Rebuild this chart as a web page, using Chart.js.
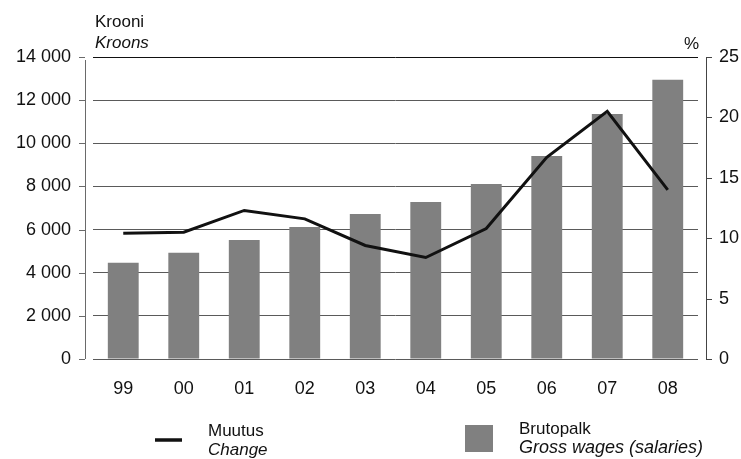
<!DOCTYPE html>
<html>
<head>
<meta charset="utf-8">
<script src="https://cdn.jsdelivr.net/npm/chart.js@4/dist/chart.umd.min.js"></script>
<style>
  html, body { margin: 0; padding: 0; background: #fff; }
  #wrap { position: relative; width: 741px; height: 459px; }
</style>
</head>
<body>
<div id="wrap"><canvas id="wagesChart" width="741" height="459"></canvas></div>
<script>
// Andmed / data
const years = ['99', '00', '01', '02', '03', '04', '05', '06', '07', '08'];
const grossWages = [4460, 4930, 5520, 6120, 6720, 7280, 8110, 9410, 11360, 12950];
const changePct = [10.4, 10.5, 12.3, 11.6, 9.4, 8.4, 10.8, 16.7, 20.5, 14.0];
const leftTicks = [0, 2000, 4000, 6000, 8000, 10000, 12000, 14000];
const rightTicks = [0, 5, 10, 15, 20, 25];

const FONT = "'Liberation Sans', Arial, sans-serif";

// Teljed, pealkirjad ja legend joonistatakse käsitsi
const decorPlugin = {
    id: 'decor',
    afterDraw(chart) {
        const ctx = chart.ctx;
        const area = chart.chartArea;
        const y = chart.scales.y;
        const y1 = chart.scales.y1;
        ctx.save();

        // vasak telg
        ctx.strokeStyle = '#6a6a6a';
        ctx.lineWidth = 1;
        ctx.beginPath();
        ctx.moveTo(85.5, area.top + 3);
        ctx.lineTo(85.5, area.bottom);
        leftTicks.forEach(v => {
            const py = Math.round(y.getPixelForValue(v)) + 0.5;
            ctx.moveTo(79, py);
            ctx.lineTo(85, py);
        });
        ctx.stroke();

        // parem telg
        ctx.strokeStyle = '#444';
        ctx.beginPath();
        ctx.moveTo(706.5, area.top);
        ctx.lineTo(706.5, area.bottom);
        rightTicks.forEach(v => {
            const py = Math.round(y1.getPixelForValue(v)) + 0.5;
            ctx.moveTo(706, py);
            ctx.lineTo(712, py);
        });
        ctx.stroke();

        // pealkirjad
        ctx.fillStyle = '#111';
        ctx.textBaseline = 'alphabetic';
        ctx.textAlign = 'left';
        ctx.font = '17px ' + FONT;
        ctx.fillText('Krooni', 95, 27);
        ctx.font = 'italic 17px ' + FONT;
        ctx.fillText('Kroons', 95, 48);
        ctx.font = '17px ' + FONT;
        ctx.textAlign = 'right';
        ctx.fillText('%', 699, 49);

        // legend
        ctx.textAlign = 'left';
        ctx.strokeStyle = '#111';
        ctx.lineWidth = 3.5;
        ctx.beginPath();
        ctx.moveTo(155, 440);
        ctx.lineTo(182, 440);
        ctx.stroke();
        ctx.font = '17px ' + FONT;
        ctx.fillText('Muutus', 208, 436);
        ctx.font = 'italic 17px ' + FONT;
        ctx.fillText('Change', 208, 455);

        ctx.fillStyle = '#808080';
        ctx.fillRect(465, 425, 28, 27);
        ctx.fillStyle = '#111';
        ctx.font = '17px ' + FONT;
        ctx.fillText('Brutopalk', 519, 434);
        ctx.font = 'italic 18px ' + FONT;
        ctx.fillText('Gross wages (salaries)', 519, 453);

        ctx.restore();
    }
};

const ctx = document.getElementById('wagesChart').getContext('2d');
new Chart(ctx, {
    data: {
        labels: years,
        datasets: [
            {
                type: 'line',
                label: 'Muutus',
                data: changePct,
                yAxisID: 'y1',
                borderColor: '#111',
                borderWidth: 3,
                pointRadius: 0,
                tension: 0,
                fill: false,
                order: 0
            },
            {
                type: 'bar',
                label: 'Brutopalk',
                data: grossWages,
                yAxisID: 'y',
                backgroundColor: '#808080',
                borderWidth: 0,
                barPercentage: 0.51,
                categoryPercentage: 1,
                order: 1
            }
        ]
    },
    options: {
        responsive: false,
        devicePixelRatio: 1,
        animation: false,
        layout: { padding: { top: 57, bottom: 0, left: 0, right: 0 } },
        plugins: {
            legend: { display: false },
            tooltip: { enabled: false }
        },
        scales: {
            x: {
                offset: true,
                grid: { display: false },
                border: { display: false },
                ticks: {
                    padding: 11,
                    color: '#111',
                    font: { family: FONT, size: 18 }
                },
                afterFit: s => { s.height = 100; }
            },
            y: {
                position: 'left',
                min: 0,
                max: 14000,
                afterBuildTicks: s => { s.ticks = leftTicks.map(v => ({ value: v })); },
                grid: {
                    drawTicks: false,
                    lineWidth: 1,
                    color: c => (c.tick && c.tick.value === 14000) ? '#111' : '#5a5a5a'
                },
                border: { display: false },
                ticks: {
                    padding: 22,
                    color: '#111',
                    font: { family: FONT, size: 18 },
                    callback: v => v.toLocaleString('en-US').replace(/,/g, ' ')
                },
                afterFit: s => { s.width = 93; }
            },
            y1: {
                position: 'right',
                min: 0,
                max: 25,
                afterBuildTicks: s => { s.ticks = rightTicks.map(v => ({ value: v })); },
                grid: { drawOnChartArea: false, drawTicks: false },
                border: { display: false },
                ticks: {
                    padding: 21,
                    color: '#111',
                    font: { family: FONT, size: 18 }
                },
                afterFit: s => { s.width = 43; }
            }
        }
    },
    plugins: [decorPlugin]
});
</script>
</body>
</html>
